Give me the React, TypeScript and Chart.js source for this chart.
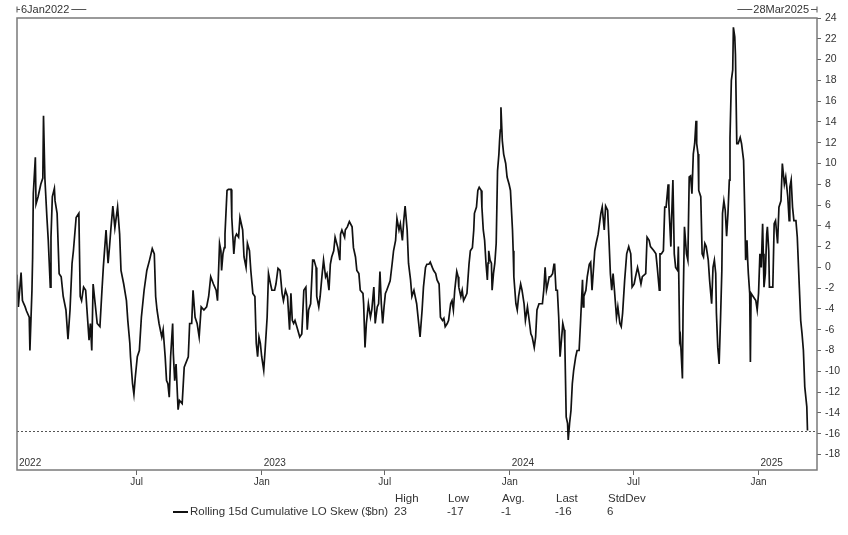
import React, { useEffect, useRef } from "react";
import { Chart, registerables } from "chart.js";

Chart.register(...registerables);

// ---------- data ----------
const startDate = "2022-01-06";
const endDate = "2025-03-28";
const seriesName = "Rolling 15d Cumulative LO Skew ($bn)";

// calendar days after 6 Jan 2022
const dayOffsets = [
  0, 2, 6, 8, 12, 14, 18, 19, 22, 23, 24, 27, 28, 31, 35, 38, 39, 41, 44, 46, 49, 50, 52, 55, 56, 59,
  62, 65, 68, 72, 75, 78, 81, 83, 87, 91, 93, 95, 98, 101, 104, 106, 108, 110, 112, 115, 118, 122, 125, 127,
  131, 134, 136, 138, 141, 144, 148, 151, 153, 157, 161, 163, 166, 167, 170, 172, 174, 177, 180, 183, 187, 191,
  195, 199, 202, 204, 206, 209, 213, 215, 218, 220, 222, 224, 226, 229, 230, 232, 234, 237, 239, 243, 246, 252,
  254, 257, 259, 262, 265, 268, 271, 275, 279, 282, 285, 289, 293, 295, 298,
  300, 301, 303, 305, 306, 309, 311, 315, 316, 319, 321, 323, 326, 328, 332, 334, 337, 339, 342, 344, 347, 350,
  352, 354, 356, 358, 360, 363, 365, 368, 370, 373, 375, 379, 381, 384, 387, 390, 392, 395, 398, 401, 403, 405,
  407, 409, 413, 416, 419, 422, 425, 427, 429, 432, 435, 437, 440, 441, 444, 446, 449, 451, 454, 456, 459, 461,
  463, 466, 468, 472, 475, 476, 478, 482, 483, 486, 489, 493, 495, 498, 500, 503, 505, 509, 510, 512, 514, 515,
  517, 520, 522, 525, 527, 530, 532, 534, 536, 538, 540, 542, 544, 549, 552, 554, 557, 559, 562, 564, 567, 569,
  571, 574, 576, 579, 581, 584, 588, 591, 593,
  596, 598, 601, 603, 606, 608, 611, 613, 616, 618, 621, 623, 626, 628, 630, 633, 635, 638, 640, 642, 644, 647,
  649, 650, 653, 655, 657, 660, 662, 665, 667, 670, 672, 673, 676, 678, 680, 683, 684, 686, 688, 690, 692, 693,
  694, 696, 698, 699, 701, 703, 705, 707, 709, 710, 711, 712, 714, 716, 719, 721, 724, 726, 729, 730, 731, 734,
  736, 738, 741, 743, 746, 748, 751, 753, 756, 758, 761, 763, 765, 768, 773, 775, 777, 779, 780, 783, 785, 788,
  790, 791, 793, 795, 797, 799, 801, 803, 805, 806, 808, 810, 811, 813, 815, 817, 819, 822, 824, 827, 829, 832,
  833, 834, 837, 839, 842, 844, 846, 848, 850, 852, 855, 857, 859, 861, 864, 866, 869, 871, 873, 875, 877, 879,
  882, 884, 887,
  889, 891, 894, 897, 900, 903, 905, 908, 910, 913, 915, 918, 920, 925, 927, 930, 932, 937, 940, 942, 945, 946,
  948, 951, 953, 955, 958, 959, 962, 963, 965, 967, 969, 972, 973, 975, 976, 979, 980, 982, 985, 987, 989, 991,
  993, 995, 997, 999, 1000, 1002, 1003, 1006, 1008, 1010, 1012, 1014, 1017, 1019, 1022, 1024, 1026, 1028, 1029,
  1031, 1033, 1035, 1037, 1038, 1040, 1042, 1044, 1046, 1048, 1049, 1051, 1053, 1054, 1056, 1057, 1059, 1061,
  1064, 1066, 1069, 1071, 1072, 1074, 1075, 1076, 1078, 1079, 1080, 1084, 1087, 1089, 1091, 1093, 1095, 1097,
  1098, 1099, 1101, 1103, 1104, 1106, 1107, 1112, 1114, 1116, 1119, 1121, 1124, 1126, 1129, 1131, 1134, 1136,
  1137, 1139, 1141, 1143, 1146, 1148, 1151, 1153, 1155, 1157, 1159, 1162, 1163,
];

const skewValues = [
  -0.7, -3.8, -0.5, -3.2, -3.8, -4.2, -4.8, -8.0, -2.2, 1.0, 7.1, 10.6, 6.1, 6.8, 8.0, 8.6, 14.6, 8.6, 4.8, 2.6, -1.9, 2.9, 6.8, 7.6, 6.4, 5.2,
  -0.6, -0.9, -2.8, -4.1, -6.9, -4.1, 0.4, 1.6, 4.8, 5.2, -2.8, -3.2, -1.9, -2.2, -5.1, -7.0, -5.4, -8.0, -1.6, -3.5, -5.4, -5.7, -2.2, 0.0,
  3.6, 0.4, 1.9, 3.6, 5.9, 3.8, 5.8, 3.2, -0.3, -1.6, -3.2, -5.1, -7.3, -8.6, -11.2, -12.2, -10.6, -8.6, -8.0, -4.8, -2.2, -0.3,
  0.7, 1.8, 1.3, -2.8, -4.1, -5.4, -6.7, -6.0, -8.6, -10.9, -11.2, -12.5, -8.6, -5.4, -8.3, -10.9, -9.3, -13.7, -12.8, -13.1, -9.6, -8.6,
  -5.4, -5.4, -2.2, -4.8, -5.4, -6.7, -3.8, -4.1, -3.8, -2.8, -0.9, -1.6, -2.2, -3.2, 2.3,
  1.6, -0.3, 1.3, 1.9, 3.2, 7.4, 7.5, 7.5, 4.8, 1.3, 2.9, 3.2, 2.9, 4.8, 3.6, 1.0, 0.0, 2.3, 1.6, -0.3, -2.5, -2.8,
  -7.3, -8.6, -6.7, -7.3, -8.6, -9.9, -8.0, -4.8, -0.6, -1.6, -2.2, -2.2, -1.6, -0.1, -0.3, -2.5, -3.2, -2.2, -2.8, -6.0, -2.5, -5.1,
  -5.4, -5.1, -6.0, -6.7, -6.4, -2.2, -1.9, -6.0, -4.1, -3.5, 0.7, 0.7, 0.0, -2.8, -3.8, -2.8, -0.6, 0.7, -0.9, -0.6, -2.2, 0.3,
  1.0, 1.6, 2.9, 1.9, 0.7, 3.2, 3.6, 2.9, 3.6, 3.9, 4.4, 3.9, 1.9, 1.0, -0.3, -0.6, -2.2, -2.5, -3.5, -7.7, -5.4, -4.8,
  -3.5, -4.8, -4.1, -1.9, -5.4, -3.8, -3.5, -0.4, -3.5, -5.4, -3.8, -2.5, -2.2, -1.3, 0.4, 1.6, 2.6, 4.7, 3.6, 4.2, 2.6, 4.5,
  5.9, 3.6, 0.4, -1.2, -2.8, -2.2, -3.5, -5.4, -6.7,
  -4.1, -1.9, 0.0, 0.3, 0.3, 0.5, 0.0, -0.3, -0.6, -1.2, -1.6, -4.8, -5.1, -4.9, -5.7, -5.4, -5.1, -3.5, -3.2, -4.1, -2.2, -0.4,
  -0.9, -1.9, -2.8, -2.2, -3.2, -2.8, -2.5, 0.3, 1.6, 1.9, 3.6, 5.2, 5.8, 7.4, 7.7, 7.4, 5.8, 3.6, 2.6, 0.4, -1.2, 0.4,
  1.6, 0.7, 0.4, -2.2, -0.6, 0.4, 2.3, 9.3, 10.9, 12.2, 13.2, 15.4, 12.2, 10.9, 10.0, 8.7, 8.0, 7.4, 3.6, 1.6, -0.9, -3.5,
  -4.1, -2.8, -1.6, -2.2, -3.5, -5.1, -3.8, -4.8, -6.4, -6.7, -7.7, -6.7, -4.1, -3.5, -3.5, -2.2, 0.0, -2.2, -1.9, -0.9, -0.9, -0.6,
  0.3, 0.3, -2.2, -2.2, -4.8, -8.6, -7.0, -5.4, -6.0, -7.3, -14.4, -15.0, -16.6, -15.0, -13.8, -11.2, -9.9, -8.6, -8.0, -8.0, -5.4, -1.2,
  -3.8, -2.8, -2.2, -0.9, 0.3, 0.5, -2.2, -0.3, 1.6, 2.3, 3.2, 4.2, 5.2, 5.8, 3.6, 5.9, 5.5, 2.6, -0.6, -2.2, -0.6, -2.2,
  -4.8, -3.8, -5.4,
  -5.7, -4.4, -1.25, 1.3, 2.0, 1.3, -1.9, -1.6, -0.9, 0.0, -0.6, -1.6, -0.9, -0.6, 2.9, 2.6, 2.0, 1.6, 1.3, 0.0, -2.2, 1.3,
  1.3, 1.6, 5.8, 5.8, 8.0, 6.1, 2.0, 4.5, 8.4, 1.3, 0.0, -0.3, 2.0, -7.0, -6.7, -10.7, -3.8, 3.9, 1.3, 0.7, 8.7, 8.8,
  7.1, 10.9, 11.9, 14.1, 11.9, 10.9, 7.4, 6.8, 1.3, 1.0, 2.3, 2.0, 0.7, -1.25, -3.5, 0.0, 0.7, -0.6, -4.4,
  -7.7, -9.3, -5.1, -0.3, 5.2, 6.4, 5.5, 3.0, 5.2, 8.4, 12.5, 18.0, 19.0, 23.1, 22.2, 20.5, 11.9, 11.9,
  12.5, 11.9, 10.3, 4.5, 0.7, 2.6, 0.7, -0.6, -2.5, -9.1, -2.5, -2.9, -3.2, -4.1, -2.5, 1.3, 0.0, 4.2,
  1.3, -1.9, -0.6, 3.2, 3.9, 1.6, -1.9, -1.9, 4.2, 4.5, 2.3, 5.8, 6.4, 10.0, 8.0, 8.7, 6.8, 4.5,
  7.7, 8.4, 5.8, 4.5, 4.5, 2.9, -1.9, -5.1, -6.4, -8.0, -11.5, -13.4, -15.7,
];

const yTickValues = [-18, -16, -14, -12, -10, -8, -6, -4, -2, 0, 2, 4, 6, 8, 10, 12, 14, 16, 18, 20, 22, 24];
const monthTickDates = ["2022-07-01", "2023-01-01", "2023-07-01", "2024-01-01", "2024-07-01", "2025-01-01"];
const monthTickLabels = ["Jul", "Jan", "Jul", "Jan", "Jul", "Jan"];
const yearDates = ["2022-01-06", "2023-01-01", "2024-01-01", "2025-01-01"];
const yearLabels = ["2022", "2023", "2024", "2025"];
const startLabel = "6Jan2022";
const endLabel = "28Mar2025";
const statNames = ["High", "Low", "Avg.", "Last", "StdDev"];
const statValues = ["23", "-17", "-1", "-16", "6"];

// ---------- helpers ----------
const FONT = "'Liberation Sans', Arial, sans-serif";
const dayOf = (iso: string) => {
  const [y, m, d] = iso.split("-").map(Number);
  const [sy, sm, sd] = startDate.split("-").map(Number);
  return (Date.UTC(y, m - 1, d) - Date.UTC(sy, sm - 1, sd)) / 86400000;
};

const decorPlugin = {
  id: "decor",
  beforeDatasetsDraw(chart: any) {
    const { ctx, chartArea: a, scales } = chart;
    const last = skewValues[skewValues.length - 1];
    const y = Math.round(scales.y.getPixelForValue(last)) + 0.5;
    ctx.save();
    ctx.strokeStyle = "#555";
    ctx.lineWidth = 1;
    ctx.setLineDash([2, 2]);
    ctx.beginPath();
    ctx.moveTo(a.left, y);
    ctx.lineTo(a.right, y);
    ctx.stroke();
    ctx.restore();
  },
  afterDraw(chart: any) {
    const { ctx, chartArea: a, scales } = chart;
    ctx.save();
    // frame
    ctx.strokeStyle = "#7a7a7a";
    ctx.lineWidth = 1.5;
    ctx.strokeRect(a.left, a.top, a.right - a.left, a.bottom - a.top);

    // year labels inside plot
    ctx.fillStyle = "#333";
    ctx.font = `10px ${FONT}`;
    ctx.textBaseline = "bottom";
    ctx.textAlign = "left";
    yearDates.forEach((d, i) => {
      const x = scales.x.getPixelForValue(dayOf(d));
      ctx.fillText(yearLabels[i], x + 2, a.bottom - 2);
    });

    // top date labels
    ctx.font = `11px ${FONT}`;
    ctx.textBaseline = "middle";
    ctx.strokeStyle = "#555";
    ctx.lineWidth = 1;
    const ty = 9.5;
    const lw = ctx.measureText(startLabel).width;
    ctx.beginPath();
    ctx.moveTo(a.left, ty - 3);
    ctx.lineTo(a.left, ty + 3);
    ctx.moveTo(a.left, ty);
    ctx.lineTo(a.left + 3, ty);
    ctx.moveTo(a.left + 6 + lw, ty);
    ctx.lineTo(a.left + 6 + lw + 15, ty);
    const rw = ctx.measureText(endLabel).width;
    ctx.moveTo(a.right, ty - 3);
    ctx.lineTo(a.right, ty + 3);
    ctx.moveTo(a.right, ty);
    ctx.lineTo(a.right - 6, ty);
    ctx.moveTo(a.right - 9 - rw, ty);
    ctx.lineTo(a.right - 9 - rw - 15, ty);
    ctx.stroke();
    ctx.textAlign = "left";
    ctx.fillText(startLabel, a.left + 4, ty);
    ctx.textAlign = "right";
    ctx.fillText(endLabel, a.right - 8, ty);

    // legend + stats
    ctx.font = `11.5px ${FONT}`;
    ctx.textAlign = "left";
    const ly = 512;
    ctx.strokeStyle = "#111";
    ctx.lineWidth = 2;
    ctx.beginPath();
    ctx.moveTo(173, ly);
    ctx.lineTo(188, ly);
    ctx.stroke();
    ctx.fillStyle = "#333";
    ctx.fillText(seriesName, 190, ly);
    const sx = [395, 448, 502, 556, 608];
    statNames.forEach((n, i) => {
      ctx.fillText(n, sx[i], 499);
      ctx.fillText(statValues[i], sx[i] - 1, ly);
    });
    ctx.restore();
  },
};

export default function App() {
  const ref = useRef<HTMLCanvasElement | null>(null);
  useEffect(() => {
    if (!ref.current) return;
    const chart = new Chart(ref.current, {
      type: "line",
      data: {
        datasets: [
          {
            label: seriesName,
            data: dayOffsets.map((d, i) => ({ x: d, y: skewValues[i] })),
            borderColor: "#111",
            borderWidth: 1.7,
            pointRadius: 0,
            tension: 0,
            fill: false,
          },
        ],
      },
      options: {
        responsive: false,
        animation: false,
        devicePixelRatio: 1,
        layout: { padding: { top: 18, left: 17, right: 0, bottom: 0 } },
        plugins: { legend: { display: false }, tooltip: { enabled: false } },
        scales: {
          x: {
            type: "linear",
            position: "bottom",
            min: 0,
            max: dayOf(endDate),
            afterFit(s: any) {
              s.height = 65;
            },
            afterBuildTicks(s: any) {
              s.ticks = monthTickDates.map((d) => ({ value: dayOf(d) }));
            },
            ticks: {
              callback: (_v: any, i: number) => monthTickLabels[i],
              color: "#333",
              font: { family: FONT, size: 10 },
              maxRotation: 0,
              autoSkip: false,
              padding: 1,
            },
            grid: { drawOnChartArea: false, drawTicks: true, tickLength: 5, color: "#666" },
            border: { display: false },
          },
          y: {
            position: "right",
            min: -19.5,
            max: 24,
            afterFit(s: any) {
              s.width = 31;
            },
            afterBuildTicks(s: any) {
              s.ticks = yTickValues.map((v) => ({ value: v }));
            },
            ticks: {
              color: "#333",
              font: { family: FONT, size: 10.5 },
              padding: 4,
              autoSkip: false,
            },
            grid: { drawOnChartArea: false, drawTicks: true, tickLength: 4, color: "#666" },
            border: { display: false },
          },
        },
      },
      plugins: [decorPlugin],
    });
    return () => chart.destroy();
  }, []);
  return (
    <div style={{ position: "absolute", left: 0, top: 0, width: 848, height: 535, background: "#fff" }}>
      <canvas ref={ref} width={848} height={535} />
    </div>
  );
}
